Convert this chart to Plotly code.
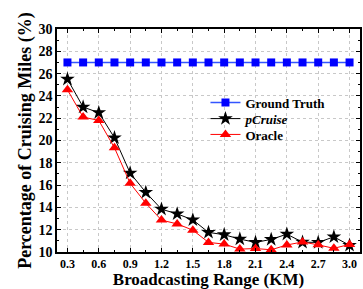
import plotly.graph_objects as go

x_vals = [0.3, 0.45, 0.6, 0.75, 0.9, 1.05, 1.2, 1.35, 1.5, 1.65, 1.8, 1.95, 2.1, 2.25, 2.4, 2.55, 2.7, 2.85, 3.0]
ground_truth = [27.0] * 19
pcruise = [25.5, 23.0, 22.5, 20.24, 17.08, 15.35, 13.84, 13.42, 12.88, 11.76, 11.55, 11.16, 10.86, 11.13, 11.6, 10.88, 10.86, 11.36, 10.6]
oracle = [24.55, 22.1, 21.8, 19.35, 16.16, 14.38, 12.86, 12.52, 11.96, 10.86, 10.71, 10.26, 10.31, 10.2, 10.63, 10.9, 10.64, 10.33, 10.68]

xtick_vals = [0.3, 0.6, 0.9, 1.2, 1.5, 1.8, 2.1, 2.4, 2.7, 3.0]
xtick_text = ["0.3", "0.6", "0.9", "1.2", "1.5", "1.8", "2.1", "2.4", "2.7", "3.0"]
ytick_vals = [10, 12, 14, 16, 18, 20, 22, 24, 26, 28, 30]

FONT = "Liberation Serif"
LEG_FONT = dict(family=FONT, size=13, color="black", weight="bold")

fig = go.Figure()
fig.add_trace(go.Scatter(
    x=x_vals, y=ground_truth, name="Ground Truth", mode="lines+markers",
    line=dict(color="#3355ff", width=1.5),
    marker=dict(symbol="square", size=8, color="#0000ff"),
    legend="legend",
))
fig.add_trace(go.Scatter(
    x=x_vals, y=pcruise, name="<i>pCruise</i>", mode="lines+markers",
    line=dict(color="black", width=1),
    marker=dict(symbol="star", size=11, color="black"),
    legend="legend2",
))
fig.add_trace(go.Scatter(
    x=x_vals, y=oracle, name="Oracle", mode="lines+markers",
    line=dict(color="red", width=1),
    marker=dict(symbol="triangle-up", size=10, color="red"),
    legend="legend3",
))

def leg(yc):
    return dict(
        x=0.49, y=yc, xanchor="left", yanchor="middle",
        bgcolor="rgba(255,255,255,0)", borderwidth=0,
        font=LEG_FONT, itemwidth=30,
    )

fig.update_layout(
    width=363, height=289,
    margin=dict(l=57, r=1, t=29, b=36),
    plot_bgcolor="white", paper_bgcolor="white",
    font=dict(family=FONT, color="black"),
    showlegend=True,
    legend=leg(0.67),
    legend2=leg(0.598),
    legend3=leg(0.527),
)

fig.update_xaxes(
    range=[0.2, 3.1],
    tickvals=xtick_vals, ticktext=xtick_text,
    ticks="inside", ticklen=4, tickwidth=1, tickcolor="black",
    minor=dict(tickvals=[0.45, 0.75, 1.05, 1.35, 1.65, 1.95, 2.25, 2.55, 2.85], ticks="inside", ticklen=2, tickcolor="black", showgrid=False),
    showline=True, linecolor="black", linewidth=1.5, mirror="ticks",
    showgrid=True, gridcolor="#c8c8c8", griddash="dot", gridwidth=1,
    zeroline=False,
    tickfont=dict(family=FONT, size=12, color="black", weight="bold"),
    title=dict(text="Broadcasting Range (KM)", font=dict(family=FONT, size=17, color="black", weight="bold"), standoff=5),
)
fig.update_yaxes(
    range=[10, 30],
    tickvals=ytick_vals,
    ticks="inside", ticklen=4, tickwidth=1, tickcolor="black",
    minor=dict(dtick=1, ticks="inside", ticklen=2, tickcolor="black", showgrid=False),
    showline=True, linecolor="black", linewidth=1.5, mirror="ticks",
    showgrid=True, gridcolor="#c8c8c8", griddash="dot", gridwidth=1,
    zeroline=False,
    tickfont=dict(family=FONT, size=14, color="black", weight="bold"),
    title=dict(text="Percentage of Cruising Miles (%)", font=dict(family=FONT, size=18, color="black", weight="bold"), standoff=2),
)

fig.write_html("out.html", config={"displayModeBar": False},
               post_script="document.body.style.margin='0';document.body.style.overflow='hidden';")
